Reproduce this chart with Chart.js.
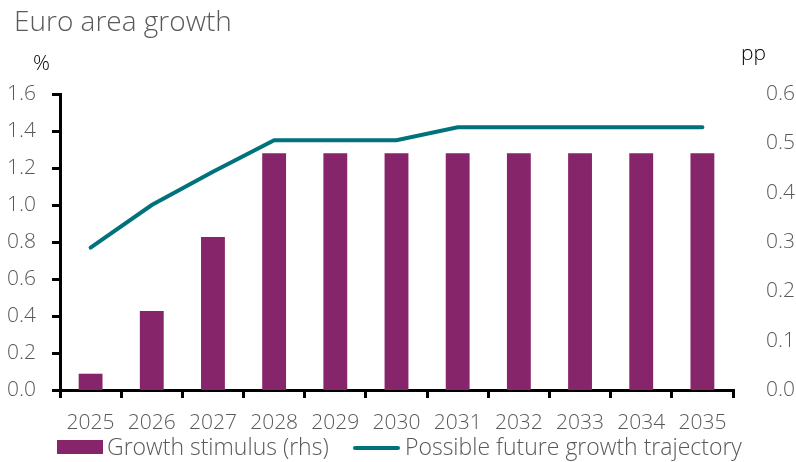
<!DOCTYPE html>
<html>
<head>
<meta charset="utf-8">
<script src="https://cdn.jsdelivr.net/npm/chart.js@4.4.1/dist/chart.umd.min.js"></script>
<style>
  body { margin: 0; background: #fff; }
  #wrap { position: relative; width: 796px; height: 462px; font-family: "Open Sans", sans-serif; font-weight: 300; }
  canvas { position: absolute; left: 0; top: 0; }
  .lbl { position: absolute; white-space: nowrap; line-height: 1; }
  #title { left: 14px; top: 6px; font-size: 28px; color: #595959; }
  #pct { left: 33px; top: 52px; font-size: 21px; color: #000; }
  #pp { left: 741px; top: 42px; font-size: 21px; color: #000; }
  .legtext { font-size: 23px; color: #595959; top: 435px; }
  #sw1 { position: absolute; left: 57px; top: 440px; width: 46px; height: 14px; background: #87256A; }
  #sw2 { position: absolute; left: 353px; top: 446px; width: 47px; height: 4px; background: #00727C; border-radius: 2px; }
</style>
</head>
<body>
<div id="wrap">
  <canvas id="chart" width="796" height="462"></canvas>
  <div class="lbl" id="title">Euro area growth</div>
  <div class="lbl" id="pct">%</div>
  <div class="lbl" id="pp">pp</div>
  <div id="sw1"></div>
  <div class="lbl legtext" style="left:107px">Growth stimulus (rhs)</div>
  <div id="sw2"></div>
  <div class="lbl legtext" style="left:405px">Possible future growth trajectory</div>
</div>
<script>
// data
const years = ['2025', '2026', '2027', '2028', '2029', '2030', '2031', '2032', '2033', '2034', '2035'];
const stimulus = [0.033, 0.16, 0.31, 0.48, 0.48, 0.48, 0.48, 0.48, 0.48, 0.48, 0.48];
const trajectory = [0.77, 1.0, 1.18, 1.35, 1.35, 1.35, 1.42, 1.42, 1.42, 1.42, 1.42];

const purple = '#87256A';
const teal = '#00727C';
const grey = '#595959';
const tickFont = { family: 'Open Sans', size: 21, weight: 300 };

new Chart(document.getElementById('chart'), {
  type: 'bar',
  data: {
    labels: years,
    datasets: [
      {
        type: 'line',
        label: 'Possible future growth trajectory',
        data: trajectory,
        yAxisID: 'y',
        borderColor: teal,
        borderWidth: 4,
        pointRadius: 0,
        borderCapStyle: 'round',
        tension: 0,
        order: 0
      },
      {
        label: 'Growth stimulus (rhs)',
        data: stimulus,
        yAxisID: 'y1',
        backgroundColor: purple,
        categoryPercentage: 1,
        barPercentage: 0.39,
        order: 1
      }
    ]
  },
  options: {
    responsive: false,
    animation: false,
    layout: { padding: { left: 0, right: 0, top: 94, bottom: 0 } },
    plugins: { legend: { display: false }, tooltip: { enabled: false } },
    scales: {
      x: {
        grid: { display: true, drawOnChartArea: false, offset: true, color: '#000', lineWidth: 3, tickLength: 8 },
        border: { color: '#000', width: 3 },
        ticks: { font: tickFont, color: grey, padding: 12, maxRotation: 0 },
        afterFit: s => { s.height = 72; }
      },
      y: {
        position: 'left',
        min: 0, max: 1.6,
        grid: { display: true, drawOnChartArea: false, color: '#000', lineWidth: 3, tickLength: 8 },
        border: { color: '#000', width: 3 },
        ticks: { stepSize: 0.2, font: tickFont, color: grey, padding: 16, callback: v => v.toFixed(1) },
        afterFit: s => { s.width = 60; }
      },
      y1: {
        position: 'right',
        min: 0, max: 0.6,
        grid: { display: false },
        border: { display: false },
        ticks: { stepSize: 0.1, font: tickFont, color: grey, padding: 25, callback: v => v.toFixed(1) },
        afterFit: s => { s.width = 63; }
      }
    }
  }
});
</script>
</body>
</html>
